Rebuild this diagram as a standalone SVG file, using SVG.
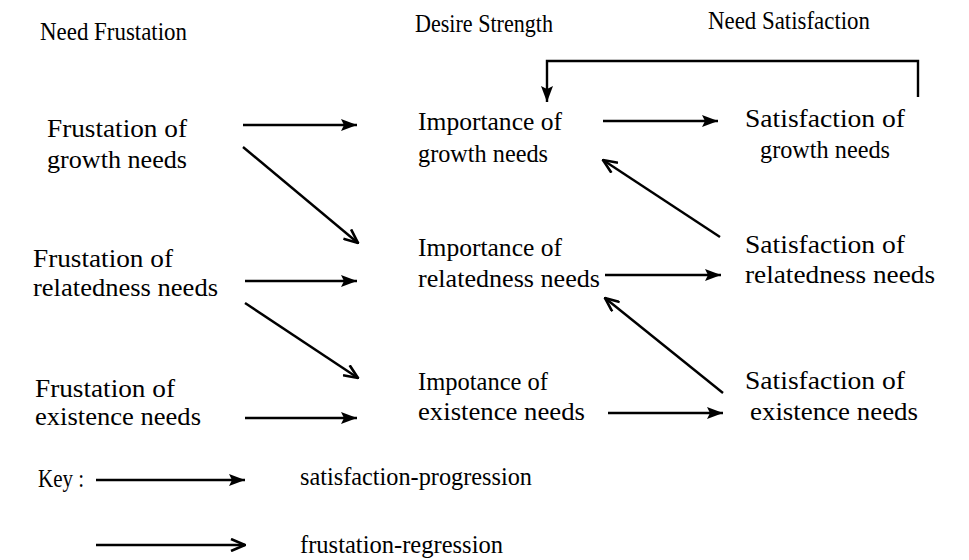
<svg xmlns="http://www.w3.org/2000/svg" width="969" height="560" viewBox="0 0 969 560">
<defs>
<style>
text{font-family:"Liberation Serif","Times New Roman","DejaVu Serif",serif;font-size:26px;fill:#000}
.c line,.c path{stroke:#000;stroke-width:2.4;fill:none}
</style>
<marker id="fill" viewBox="0 0 16 12" refX="16" refY="6" markerWidth="16" markerHeight="12" markerUnits="userSpaceOnUse" orient="auto">
<path d="M0,0 L16,6 L0,12 L3,6 Z" fill="#000" stroke="none"/>
</marker>
<marker id="open" viewBox="0 0 16 14" refX="15" refY="7" markerWidth="16" markerHeight="14" markerUnits="userSpaceOnUse" orient="auto">
<path d="M1,1 L15,7 L1,13" fill="none" stroke="#000" stroke-width="2.6"/>
</marker>
</defs>
<rect width="969" height="560" fill="#fff"/>
<g id="headers">
<text x="40" y="40" textLength="147" lengthAdjust="spacingAndGlyphs">Need Frustation</text>
<text x="415" y="32" textLength="138" lengthAdjust="spacingAndGlyphs">Desire Strength</text>
<text x="708" y="29" textLength="162" lengthAdjust="spacingAndGlyphs">Need Satisfaction</text>
</g>
<g id="frust-growth">
<text x="47" y="137" textLength="140" lengthAdjust="spacingAndGlyphs">Frustation of</text>
<text x="47" y="168" textLength="140" lengthAdjust="spacingAndGlyphs">growth needs</text>
</g>
<g id="frust-related">
<text x="33" y="267" textLength="140" lengthAdjust="spacingAndGlyphs">Frustation of</text>
<text x="33" y="296" textLength="185" lengthAdjust="spacingAndGlyphs">relatedness needs</text>
</g>
<g id="frust-exist">
<text x="35" y="397" textLength="140" lengthAdjust="spacingAndGlyphs">Frustation of</text>
<text x="35" y="425" textLength="166" lengthAdjust="spacingAndGlyphs">existence needs</text>
</g>
<g id="imp-growth">
<text x="418" y="130" textLength="144" lengthAdjust="spacingAndGlyphs">Importance of</text>
<text x="418" y="162" textLength="130" lengthAdjust="spacingAndGlyphs">growth needs</text>
</g>
<g id="imp-related">
<text x="418" y="256" textLength="144" lengthAdjust="spacingAndGlyphs">Importance of</text>
<text x="418" y="287" textLength="182" lengthAdjust="spacingAndGlyphs">relatedness needs</text>
</g>
<g id="imp-exist">
<text x="418" y="390" textLength="130" lengthAdjust="spacingAndGlyphs">Impotance of</text>
<text x="418" y="420" textLength="167" lengthAdjust="spacingAndGlyphs">existence needs</text>
</g>
<g id="sat-growth">
<text x="745" y="127" textLength="160" lengthAdjust="spacingAndGlyphs">Satisfaction of</text>
<text x="760" y="158" textLength="130" lengthAdjust="spacingAndGlyphs">growth needs</text>
</g>
<g id="sat-related">
<text x="745" y="253" textLength="160" lengthAdjust="spacingAndGlyphs">Satisfaction of</text>
<text x="745" y="283" textLength="190" lengthAdjust="spacingAndGlyphs">relatedness needs</text>
</g>
<g id="sat-exist">
<text x="745" y="389" textLength="160" lengthAdjust="spacingAndGlyphs">Satisfaction of</text>
<text x="750" y="420" textLength="168" lengthAdjust="spacingAndGlyphs">existence needs</text>
</g>
<g id="key">
<text x="38" y="487" textLength="46" lengthAdjust="spacingAndGlyphs">Key :</text>
<text x="300" y="485" textLength="232" lengthAdjust="spacingAndGlyphs">satisfaction-progression</text>
<text x="300" y="553" textLength="203" lengthAdjust="spacingAndGlyphs">frustation-regression</text>
</g>
<g id="connectors" class="c">
<line x1="243" y1="125" x2="357" y2="125" marker-end="url(#fill)"/>
<line x1="243" y1="147" x2="358" y2="243" marker-end="url(#open)"/>
<line x1="245" y1="281" x2="357" y2="281" marker-end="url(#fill)"/>
<line x1="245" y1="303" x2="358" y2="378" marker-end="url(#open)"/>
<line x1="245" y1="418" x2="357" y2="418" marker-end="url(#fill)"/>
<line x1="603" y1="121" x2="718" y2="121" marker-end="url(#fill)"/>
<line x1="605" y1="275" x2="721" y2="275" marker-end="url(#fill)"/>
<line x1="608" y1="413" x2="723" y2="413" marker-end="url(#fill)"/>
<line x1="720" y1="237" x2="603" y2="160" marker-end="url(#open)"/>
<line x1="723" y1="393" x2="605" y2="298" marker-end="url(#open)"/>
<path d="M918,97 V61 H547 V102" marker-end="url(#fill)"/>
<line x1="96" y1="480" x2="245" y2="480" marker-end="url(#fill)"/>
<line x1="96" y1="545" x2="245" y2="545" marker-end="url(#open)"/>
</g>
</svg>
